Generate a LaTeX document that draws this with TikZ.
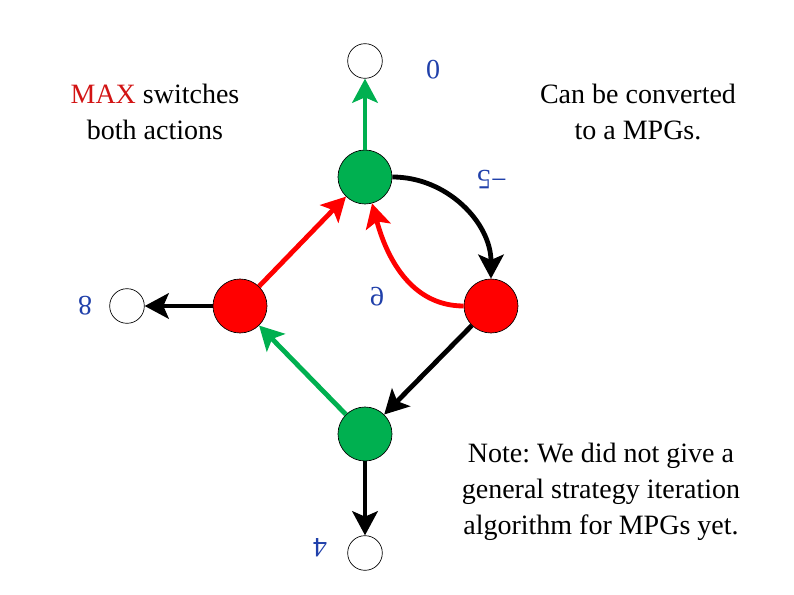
\documentclass[tikz,border=0pt]{standalone}
\usepackage{fontspec}
\setmainfont{Liberation Serif}
\usetikzlibrary{arrows.meta}
\definecolor{maxred}{RGB}{255,0,0}
\definecolor{maxtext}{RGB}{210,20,20}
\definecolor{mingreen}{RGB}{0,176,80}
\definecolor{wtblue}{RGB}{32,64,170}
\frenchspacing

\begin{document}
\begin{tikzpicture}[x=0.75pt,y=-0.75pt]
\useasboundingbox (0,0) rectangle (794,595);
\tikzstyle{every node}+=[font=\fontsize{21}{27}\selectfont]
\tikzstyle{state}=[circle,draw=black,line width=0.5pt,minimum size=40.5pt,inner sep=0pt]
\tikzstyle{leaf}=[circle,draw=black,line width=0.5pt,fill=white,minimum size=26pt,inner sep=0pt]
\tikzstyle{num}=[text=wtblue,rotate=180]
\tikzstyle{move}=[line width=3.6pt,-{Stealth[length=18pt,width=19pt,inset=4pt]}]
% vertices
\node[leaf] (top) at (365,61) {};
\node[state,fill=mingreen] (g1) at (365,177) {};
\node[state,fill=maxred] (r1) at (240,306) {};
\node[state,fill=maxred] (r2) at (491,306) {};
\node[state,fill=mingreen] (g2) at (365,434) {};
\node[leaf] (left) at (127,306) {};
\node[leaf] (bottom) at (365,553) {};
% weights
\node[num] (w0) at (433,70) {0};
\node[num] (w1) at (492,180) {−5};
\node[num,xscale=-1,transform shape] (w2) at (377,297) {9};
\node[num] (w3) at (85,306) {8};
\node[num] (w4) at (320,548) {4};
% remarks
\node[align=center] (maxnote) at (155,112) {\textcolor{maxtext}{MAX} switches\\both actions};
\node[align=center] (mpg) at (638,112) {Can be converted\\to a MPGs.};
\node[align=center] (note) at (601,492) {Note: We did not give a\\general strategy iteration\\algorithm for MPGs yet.};
% moves
\draw[move,mingreen] (g1) -- (top);
\draw[move,black] (g1) to[out=0,in=90] (r2);
\draw[move,maxred] (r2) to[out=180,in=-75] (g1);
\draw[move,maxred] (r1) -- (g1);
\draw[move,mingreen] (g2) -- (r1);
\draw[move,black] (r2) -- (g2);
\draw[move,black] (r1) -- (left);
\draw[move,black] (g2) -- (bottom);
\end{tikzpicture}
\end{document}
